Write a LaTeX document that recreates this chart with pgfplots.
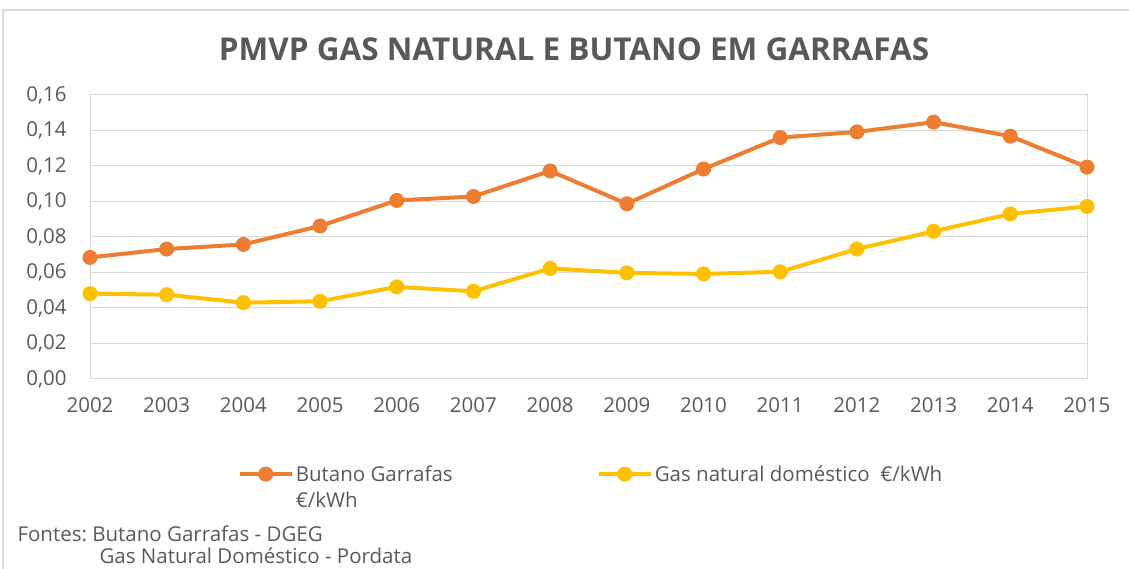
\documentclass[border=0pt]{standalone}
\usepackage{pgfplots}
\pgfplotsset{compat=1.18}
\usepackage{fontspec}
\setmainfont{Open Sans}
\frenchspacing
\definecolor{orangeB}{HTML}{ED7D31}
\definecolor{yellowG}{HTML}{FFC000}
\definecolor{txt}{HTML}{595959}
\definecolor{gridc}{HTML}{D9D9D9}
\begin{document}
\begin{tikzpicture}[x=1pt,y=1pt]
\useasboundingbox (0,0) rectangle (1129,569);
\draw[gridc,line width=1.5pt] (3,0) -- (3,559) -- (1129,559);
\node[txt,font=\fontsize{31.5}{36}\selectfont\bfseries] at (574,520) {PMVP GAS NATURAL E BUTANO EM GARRAFAS};
\begin{axis}[
  at={(90pt,190pt)}, anchor=south west,
  scale only axis, width=997pt, height=284pt,
  xmin=2002, xmax=2015, ymin=0, ymax=0.16,
  xtick={2002,...,2015},
  ytick={0,0.02,...,0.16},
  xticklabel style={/pgf/number format/1000 sep={}, anchor=center, yshift=-26pt},
  yticklabel style={/pgf/number format/fixed, /pgf/number format/fixed zerofill, /pgf/number format/precision=2, /pgf/number format/use comma, anchor=east, xshift=-20pt},
  /pgf/number format/assume math mode=true,
  ticklabel style={font=\fontsize{20.5}{24}\selectfont, text=txt},
  tick style={draw=none},
  axis line style={gridc, line width=1pt},
  ymajorgrids, major grid style={gridc, line width=1pt},
  legend style={at={(0.145,-0.29)}, anchor=north west, draw=none, fill=none,
    legend columns=2, font=\fontsize{20.5}{26}\selectfont, text=txt,
    /tikz/every even column/.append style={column sep=134pt}},
  legend cell align=left,
  legend image code/.code={\draw[#1, mark repeat=2, mark phase=2] plot coordinates {(0pt,0pt) (26pt,0pt) (52pt,0pt)};},
]
\addplot[orangeB, line width=4pt, mark=*, mark size=7pt, mark options={solid, line width=1pt}] coordinates {
(2002,0.0685) (2003,0.0732) (2004,0.0758) (2005,0.0862) (2006,0.1006) (2007,0.1028) (2008,0.1172)
(2009,0.0987) (2010,0.1183) (2011,0.1360) (2012,0.1392) (2013,0.1447) (2014,0.1368) (2015,0.1194)};
\addlegendentry{\parbox[t]{165pt}{Butano Garrafas\\€/kWh}}
\addplot[yellowG, line width=4pt, mark=*, mark size=7pt, mark options={solid, line width=1pt}] coordinates {
(2002,0.0481) (2003,0.0475) (2004,0.0430) (2005,0.0438) (2006,0.0519) (2007,0.0494) (2008,0.0623)
(2009,0.0598) (2010,0.0592) (2011,0.0604) (2012,0.0732) (2013,0.0832) (2014,0.0930) (2015,0.0972)};
\addlegendentry{Gas natural doméstico \ €/kWh}
\end{axis}
\node[txt,font=\fontsize{20.5}{24}\selectfont,anchor=west] at (14,35) {Fontes: Butano Garrafas - DGEG};
\node[txt,font=\fontsize{20.5}{24}\selectfont,anchor=west] at (96,13) {Gas Natural Doméstico - Pordata};
\end{tikzpicture}
\end{document}
